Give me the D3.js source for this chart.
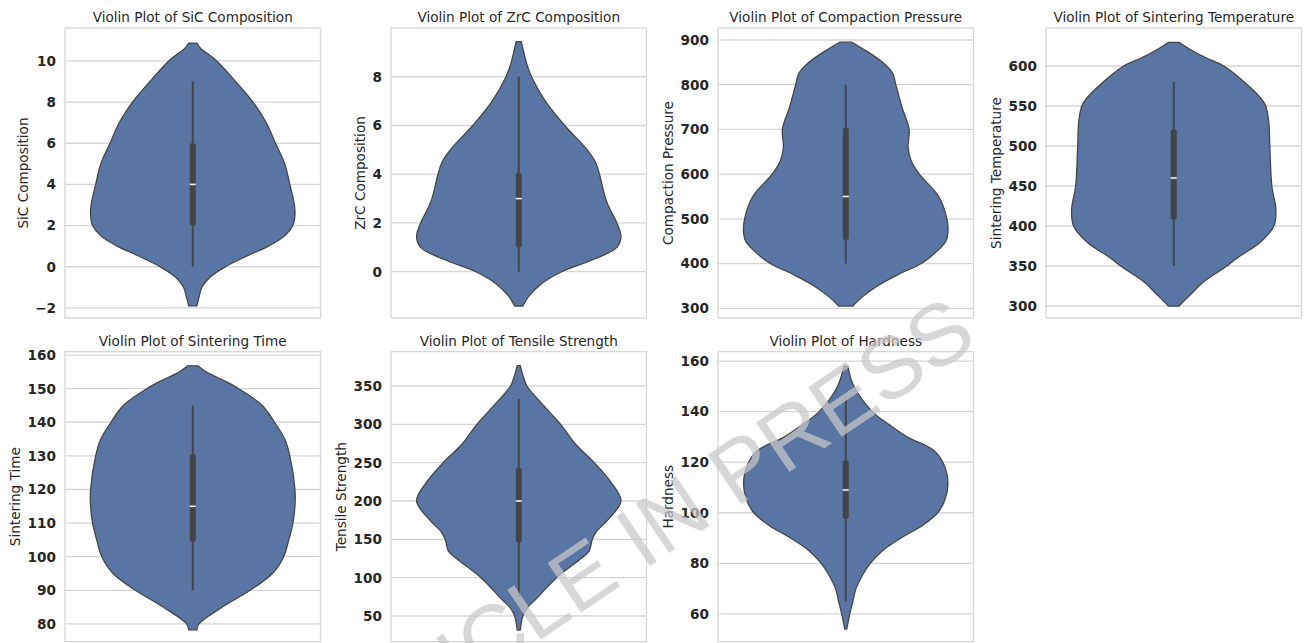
<!DOCTYPE html>
<html><head><meta charset="utf-8">
<script src="https://cdn.jsdelivr.net/npm/d3@7"></script>
<style>
body{margin:0;background:#fff;}
svg{display:block;font-family:"DejaVu Sans",sans-serif;}
</style>
</head><body><svg id="chart" width="1304" height="643"></svg>
<script>
// ---------- data ----------
const features = ["SiC Composition","ZrC Composition","Compaction Pressure","Sintering Temperature","Sintering Time","Tensile Strength","Hardness"];
const yDomains = [[-2.49,11.6],[-1.9,10.0],[278.3,926.8],[285,647.5],[74.7,161],[16.5,394.7],[49,163.7]];
const yTicks = [
  [-2,0,2,4,6,8,10],
  [0,2,4,6,8],
  [300,400,500,600,700,800,900],
  [300,350,400,450,500,550,600],
  [80,90,100,110,120,130,140,150,160],
  [50,100,150,200,250,300,350],
  [60,80,100,120,140,160]
];
// violin outlines: [value, relative half-width]
const densitySiC = [[10.87,0.04],[10.6,0.08],[10.3,0.16],[10,0.235],[9,0.42],[8,0.59],[7,0.72],[6,0.81],[5,0.9],[4,0.95],[3,0.995],[2.5,1.0],[2,0.98],[1.5,0.9],[1,0.74],[0.5,0.52],[0,0.32],[-0.5,0.17],[-1,0.09],[-1.5,0.06],[-1.9,0.04]];
const densityZrC = [[9.44,0.025],[9,0.05],[8.5,0.08],[8,0.125],[7,0.26],[6,0.45],[5,0.67],[4.5,0.75],[4,0.79],[3,0.85],[2.5,0.9],[2,0.96],[1.44,1.0],[1,0.96],[0.5,0.73],[0,0.42],[-0.5,0.22],[-1,0.1],[-1.41,0.04]];
const densityPressure = [[895,0.06],[880,0.17],[850,0.36],[825,0.46],[800,0.49],[750,0.55],[700,0.62],[660,0.61],[630,0.64],[600,0.72],[550,0.91],[500,0.99],[470,1.0],[450,0.98],[425,0.88],[400,0.74],[375,0.51],[350,0.31],[325,0.16],[305,0.07]];
const densityTemperature = [[629.6,0.05],[620,0.17],[610,0.32],[600,0.49],[580,0.69],[560,0.85],[550,0.9],[530,0.93],[500,0.94],[450,0.96],[420,1.0],[400,0.98],[380,0.85],[360,0.62],[350,0.52],[330,0.29],[315,0.17],[300,0.05]];
const densityTime = [[156.8,0.05],[155,0.13],[152.5,0.3],[150,0.45],[145,0.68],[140,0.8],[135,0.9],[130,0.95],[120,1.0],[115,1.0],[110,0.98],[105,0.94],[100,0.89],[95,0.78],[90,0.56],[85,0.29],[80,0.06],[78.2,0.04]];
const densityTensile = [[376.5,0.015],[360,0.05],[350,0.08],[325,0.24],[300,0.41],[275,0.55],[250,0.74],[225,0.9],[200,1.0],[175,0.87],[160,0.76],[150,0.72],[135,0.69],[125,0.61],[100,0.37],[75,0.19],[60,0.08],[50,0.04],[31.7,0.015]];
const densityHardness = [[158,0.02],[150,0.08],[140,0.26],[135,0.42],[130,0.6],[125,0.85],[120,0.95],[112,1.0],[105,0.97],[100,0.9],[95,0.75],[90,0.54],[85,0.36],[80,0.24],[75,0.16],[70,0.1],[65,0.07],[60,0.04],[54,0.01]];
const densities = [densitySiC,densityZrC,densityPressure,densityTemperature,densityTime,densityTensile,densityHardness];
// box statistics
const whiskerLow  = [0, 0, 400, 350, 90, 75, 65];
const q1Values    = [2, 1, 453, 408, 104.5, 146, 97.5];
const medians     = [4, 3, 550, 460, 115, 200, 109];
const q3Values    = [6, 4.05, 704, 521, 130.5, 243, 120.7];
const whiskerHigh = [9, 8, 800, 580, 145, 333, 146];
const watermarkText = "ARTICLE IN PRESS";

// ---------- layout ----------
const colLefts = [65, 391, 718, 1046];
const rowTops = [28, 351.7];
const axW = 255.5, axH = 290;
const violinColor = "#5975a4", lineColor = "#444444", gridColor = "#d6d6d6", textColor = "#262626";

const svg = d3.select("#chart");
svg.append("rect").attr("width",1304).attr("height",643).attr("fill","#fff");

features.forEach((name, i) => {
  const left = colLefts[i % 4], top = rowTops[Math.floor(i / 4)];
  const g = svg.append("g").attr("transform", `translate(${left},${top})`);
  const y = d3.scaleLinear().domain(yDomains[i]).range([axH, 0]);
  const x = d3.scaleLinear().domain([-0.5, 0.5]).range([0, axW]);
  const w = d3.scaleLinear().domain([0, 1]).range([0, 0.4]);

  // grid
  g.selectAll("line.grid").data(yTicks[i]).join("line")
    .attr("x1", 0).attr("x2", axW)
    .attr("y1", d => y(d)).attr("y2", d => y(d))
    .attr("stroke", gridColor).attr("stroke-width", 1.3);
  // spines
  g.append("rect").attr("width", axW).attr("height", axH)
    .attr("fill", "none").attr("stroke", gridColor).attr("stroke-width", 1.3);

  // axis
  const ax = g.append("g").call(d3.axisLeft(y).tickValues(yTicks[i]).tickSize(0).tickPadding(9));
  ax.select(".domain").remove();
  ax.selectAll("text").attr("font-family", "DejaVu Sans").attr("font-weight", "bold")
    .attr("font-size", 13.6).attr("fill", textColor);

  let maxW = 0;
  ax.selectAll("text").each(function(){ maxW = Math.max(maxW, this.getBBox().width); });

  // violin
  const area = d3.area()
    .y(d => y(d[0]))
    .x0(d => x(-w(d[1])))
    .x1(d => x(w(d[1])))
    .curve(d3.curveCatmullRom.alpha(0.5));
  g.append("path").datum(densities[i]).attr("d", area)
    .attr("fill", violinColor).attr("stroke", lineColor).attr("stroke-width", 1.25);

  // inner box
  const cx = x(0);
  g.append("line").attr("x1", cx).attr("x2", cx)
    .attr("y1", y(whiskerLow[i])).attr("y2", y(whiskerHigh[i]))
    .attr("stroke", lineColor).attr("stroke-width", 2);
  g.append("rect").attr("x", cx - 3).attr("width", 6)
    .attr("y", y(q3Values[i])).attr("height", y(q1Values[i]) - y(q3Values[i]))
    .attr("rx", 2).attr("fill", lineColor);
  g.append("rect").attr("x", cx - 3).attr("width", 6)
    .attr("y", y(medians[i]) - 0.8).attr("height", 1.6).attr("fill", "#f2f2f2");

  // title
  g.append("text").attr("x", axW / 2).attr("y", -6).attr("text-anchor", "middle")
    .attr("font-size", 13.6).attr("fill", textColor).text("Violin Plot of " + name);
  // y label
  const lx = -9 - maxW - 12;
  g.append("text").attr("transform", `translate(${lx},${axH / 2}) rotate(-90)`)
    .attr("text-anchor", "middle").attr("font-size", 13.6).attr("fill", textColor)
    .attr("dy", "0.35em").text(name);
});

// watermark
svg.append("text")
  .attr("x", 650).attr("y", 566)
  .attr("transform", "rotate(-34,650,566)")
  .attr("text-anchor", "middle")
  .attr("font-family", "Liberation Sans, Arial, sans-serif")
  .attr("font-size", 87)
  .attr("fill", "#c8c8c8").attr("fill-opacity", 0.72)
  .text(watermarkText);
</script>
</body></html>
